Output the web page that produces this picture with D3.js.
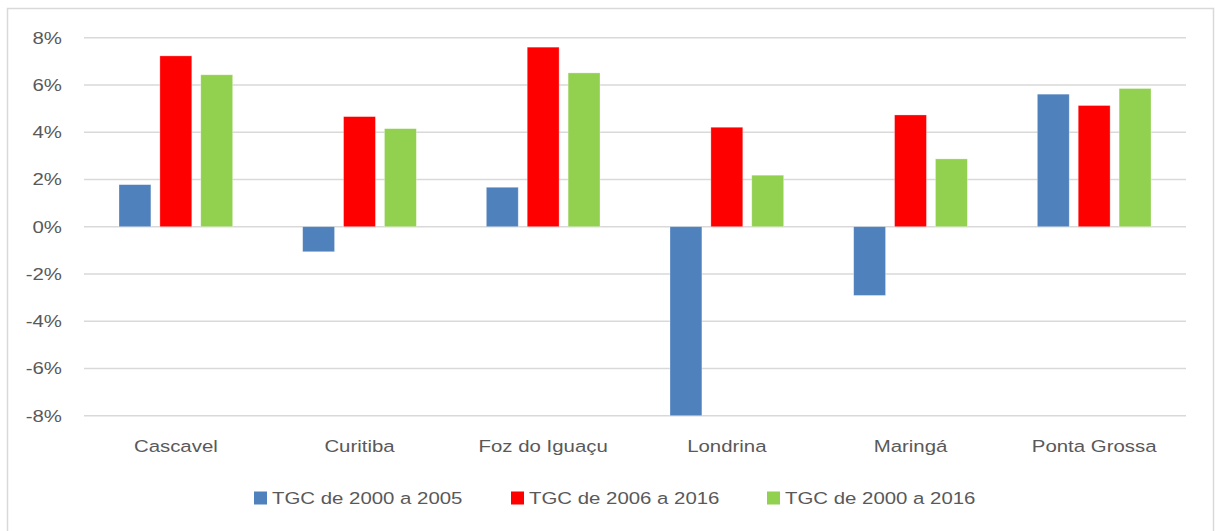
<!DOCTYPE html>
<html>
<head>
<meta charset="utf-8">
<script src="https://cdn.jsdelivr.net/npm/d3@7"></script>
<style>
  html, body { margin: 0; padding: 0; background: #fff; }
  #chart { width: 1215px; height: 531px; }
  text { font-family: "Liberation Sans", Arial, sans-serif; fill: #595959; }
</style>
</head>
<body>
<div id="chart"></div>
<script>
// chart values, in percent
var cities = ['Cascavel', 'Curitiba', 'Foz do Iguaçu', 'Londrina', 'Maringá', 'Ponta Grossa']
var seriesNames = ['TGC de 2000 a 2005', 'TGC de 2006 a 2016', 'TGC de 2000 a 2016']
var tgc2000_2005 = [1.78, -1.06, 1.67, -8.0, -2.91, 5.61]
var tgc2006_2016 = [7.23, 4.66, 7.60, 4.21, 4.73, 5.13]
var tgc2000_2016 = [6.43, 4.15, 6.51, 2.18, 2.87, 5.85]
var yTicks = [-8, -6, -4, -2, 0, 2, 4, 6, 8]
var colors = ['#4f81bd', '#ff0000', '#92d050']

var allSeries = [tgc2000_2005, tgc2006_2016, tgc2000_2016]

var W = 1215, H = 531
var plot = {left: 84, right: 1186, top: 37.7, bottom: 415.7}
var sx = 1.2 // text is drawn a bit wider, like the original

var svg = d3.select('#chart')
  .append('svg')
    .attr('width', W)
    .attr('height', H)

// chart area frame
svg.append('rect')
  .attr('x', 7.5)
  .attr('y', 8.5)
  .attr('width', 1206)
  .attr('height', 530)
  .attr('fill', 'none')
  .attr('stroke', '#d9d9d9')
  .attr('stroke-width', 1.5)

var y = d3.scaleLinear()
  .domain([-8, 8])
  .range([plot.bottom, plot.top])

var x0 = d3.scaleBand()
  .domain(cities)
  .range([plot.left, plot.right])
  .padding(0)

var x1 = d3.scaleBand()
  .domain(d3.range(seriesNames.length))
  .range([35, x0.bandwidth() - 35])
  .paddingInner(0.22)

// gridlines
svg.append('g')
  .selectAll('line')
  .data(yTicks)
  .enter()
  .append('line')
    .attr('x1', plot.left)
    .attr('x2', plot.right)
    .attr('y1', d => y(d))
    .attr('y2', d => y(d))
    .attr('stroke', '#d9d9d9')
    .attr('stroke-width', 1.5)

// y tick labels
svg.append('g')
  .selectAll('text')
  .data(yTicks)
  .enter()
  .append('text')
    .attr('transform', d => 'translate(62,' + y(d) + ') scale(' + sx + ',1)')
    .attr('dy', '0.35em')
    .attr('text-anchor', 'end')
    .attr('font-size', 17)
    .text(d => d + '%')

// bars
var groups = svg.append('g')
  .selectAll('g')
  .data(cities)
  .enter()
  .append('g')
    .attr('transform', d => 'translate(' + x0(d) + ',0)')

groups.selectAll('rect')
  .data((c, i) => allSeries.map((s, k) => ({k: k, v: s[i]})))
  .enter()
  .append('rect')
    .attr('x', d => x1(d.k))
    .attr('width', x1.bandwidth())
    .attr('y', d => y(Math.max(0, Math.max(-8, d.v))))
    .attr('height', d => Math.abs(y(Math.max(-8, d.v)) - y(0)))
    .attr('fill', d => colors[d.k])
    .attr('stroke', '#fff')
    .attr('stroke-opacity', 0.4)
    .attr('stroke-width', 0.75)

// category labels
svg.append('g')
  .selectAll('text')
  .data(cities)
  .enter()
  .append('text')
    .attr('transform', d => 'translate(' + (x0(d) + x0.bandwidth() / 2) + ',446) scale(' + sx + ',1)')
    .attr('dy', '0.35em')
    .attr('text-anchor', 'middle')
    .attr('font-size', 17)
    .text(d => d)

// legend
var legendX = [254, 511, 767]
var legend = svg.append('g')
  .selectAll('g')
  .data(seriesNames)
  .enter()
  .append('g')
    .attr('transform', (d, i) => 'translate(' + legendX[i] + ',498)')

legend.append('rect')
  .attr('x', 0)
  .attr('y', -6.5)
  .attr('width', 13)
  .attr('height', 13)
  .attr('fill', (d, i) => colors[i])

legend.append('text')
  .attr('transform', 'translate(18,0) scale(' + sx + ',1)')
  .attr('dy', '0.35em')
  .attr('font-size', 17)
  .text(d => d)
</script>
</body>
</html>
